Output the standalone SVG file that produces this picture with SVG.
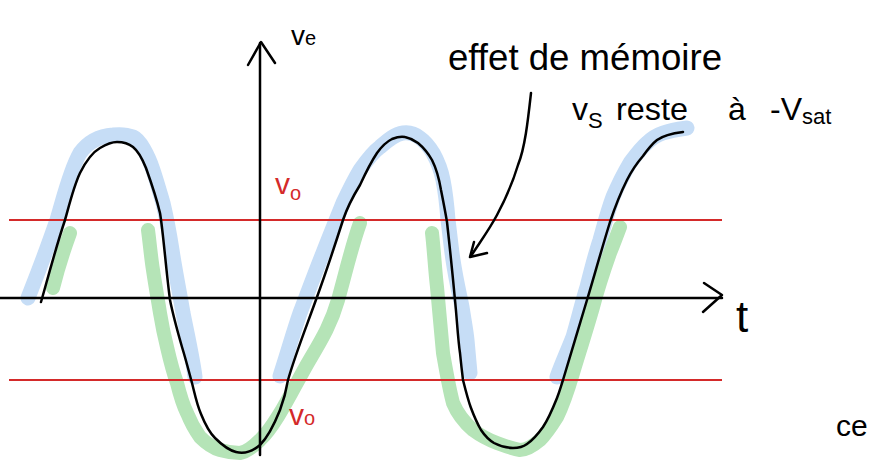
<svg xmlns="http://www.w3.org/2000/svg" width="871" height="460" viewBox="0 0 871 460">
<style>
.hl{fill:none;stroke-linecap:round;stroke-linejoin:round}
.blue{stroke:#c6ddf6;stroke-width:15}
.green{stroke:#b5e4b7;stroke-width:14}
.ink{fill:none;stroke:#000;stroke-width:2.5;stroke-linecap:round;stroke-linejoin:round}
.red{stroke:#d42a2a;stroke-width:2;fill:none}
.t{font-family:"Liberation Sans",Arial,sans-serif;fill:#000}
.tr{font-family:"Liberation Sans",Arial,sans-serif;fill:#d42a2a}
</style>
<rect width="871" height="460" fill="#fff"/>
<g id="highlights">
<path class="hl blue" d="M28,298 C35,280 45,255 57,220 C63,200 70,170 80,153 C88,142 100,136 113,135 C122,134 128,135 133,137 C140,140 148,155 153,170 C158,185 162,200 163,203 C167,220 170,237 172,250 C175,270 180,295 183,313 C187,333 193,360 195,377"/>
<path class="hl blue" d="M280,376 C287,355 293,333 300,313 C308,292 315,273 323,253 C330,235 337,218 343,203 C350,188 354,180 360,170 C367,160 373,152 380,147 C388,140 395,134 403,133 C410,132 415,134 420,138 C427,143 430,148 433,153 C438,162 441,170 443,180 C446,195 447,207 448,220 C450,235 451,247 453,260 C456,280 459,292 462,307 C464,320 466,330 467,340 C468,352 469,362 470,373"/>
<path class="hl blue" d="M557,377 C562,363 568,350 573,337 C578,320 582,303 587,287 C591,271 595,255 600,240 C604,226 608,210 613,197 C618,185 624,173 630,163 C636,155 641,148 647,143 C652,138 657,135 663,133 C672,130 680,129 687,128"/>
<path class="hl green" d="M53,288 C57,272 62,255 70,233"/>
<path class="hl green" d="M148,230 C150,245 151,258 153,270 C156,290 158,300 160,313 C162,325 164,335 167,347 C170,360 173,372 177,383 C180,395 183,405 187,413 C191,423 195,430 200,437 C206,443 213,448 220,450 C227,452 233,453 240,453 C247,452 254,446 260,440 C275,426 290,395 305,368 C318,345 330,328 338,300 C345,275 352,245 360,223"/>
<path class="hl green" d="M432,233 C434,250 435,270 437,287 C439,310 441,333 443,353 C446,370 449,388 453,403 C458,415 465,423 473,430 C481,436 489,440 497,443 C505,446 513,449 520,450 C527,450 533,446 540,440 C546,434 552,425 557,417 C563,405 568,390 573,373 C580,350 587,328 593,307 C598,288 604,270 610,253 C614,243 617,235 620,227"/>
</g>
<g id="levels">
<line class="red" x1="9" y1="220" x2="722" y2="220"/>
<line class="red" x1="9" y1="380" x2="722" y2="380"/>
</g>
<g id="axes">
<line class="ink" x1="0" y1="298" x2="722" y2="298"/>
<polyline class="ink" points="704,283 722,295 703,312"/>
<line class="ink" x1="260" y1="455" x2="260" y2="43"/>
<polyline class="ink" points="248,65 261,42 275,63"/>
</g>
<g id="signal">
<path class="ink" d="M41,302 C46,285 55,250 65,220 C68,210 73,188 80,173 C85,163 93,152 100,148 C105,145 110,142 117,142 C123,142 128,143 133,147 C138,151 142,158 146,168 C151,182 156,196 160,213 C163,230 166,270 170,300 C173,315 178,333 182,347 C186,360 189,372 192,383 C195,395 197,405 201,414 C205,424 209,432 215,438 C222,445 228,450 236,452 C244,454 253,451 260,445 C267,438 274,425 280,410 C283,402 286,392 288,380 C295,355 307,325 317,297 C325,275 335,245 343,220 C347,208 352,198 360,185 C366,172 371,162 377,153 C382,146 386,142 392,139 C397,137 401,136 405,137 C410,138 414,140 418,143 C424,148 428,153 432,160 C436,168 439,178 441,190 C443,200 445,210 447,222 C449,240 452,268 455,300 C457,320 458,340 460,353 C461,363 462,372 463,380 C466,392 468,400 471,408 C474,416 477,423 481,430 C485,436 489,440 494,443 C500,446 506,448 513,448 C519,448 523,447 527,444 C533,440 538,434 543,427 C549,418 553,408 557,398 C560,390 561,386 563,380 C568,363 581,320 587,300 C593,280 602,248 610,222 C614,210 620,194 627,180 C632,170 637,163 643,156 C648,149 652,144 657,140 C664,135 675,133 683,132"/>
</g>
<g id="annotation">
<path class="ink" d="M531,93 C528,120 525,148 518,165 C512,185 505,200 497,215 C489,230 480,242 471,256"/>
<polyline class="ink" points="474,242 470,257 487,253"/>
<text class="t" x="448" y="70" font-size="36" textLength="274" lengthAdjust="spacingAndGlyphs">effet de mémoire</text>
<text class="t" x="572" y="120" font-size="32">v<tspan font-size="22" dy="8">S</tspan></text>
<text class="t" x="616" y="120" font-size="32" textLength="72" lengthAdjust="spacingAndGlyphs">reste</text>
<text class="t" x="728" y="120" font-size="32">à</text>
<text class="t" x="770" y="120" font-size="32">-V<tspan font-size="22" dy="4">sat</tspan></text>
</g>
<g id="labels">
<text class="t" x="291" y="45" font-size="28">v<tspan font-size="20">e</tspan></text>
<text class="tr" x="275" y="194" font-size="30">v<tspan font-size="20" dy="6">o</tspan></text>
<text class="tr" x="289" y="425" font-size="30">v<tspan font-size="20">o</tspan></text>
<text class="t" x="736" y="332" font-size="44">t</text>
<text class="t" x="836" y="436" font-size="30">ce</text>
</g>
</svg>
